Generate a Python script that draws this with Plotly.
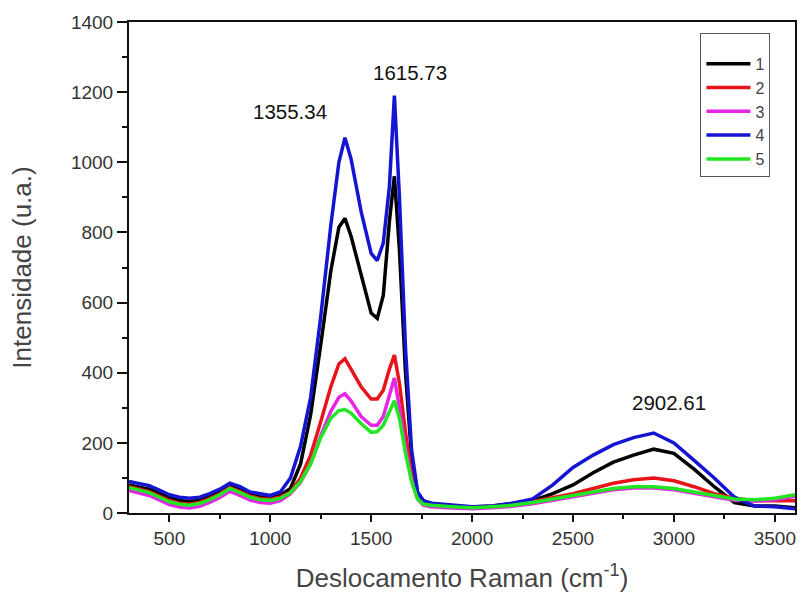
import plotly.graph_objects as go

# Raman shift grid (cm^-1)
shift = [300, 350, 400, 450, 500, 550, 600, 650, 700, 750, 800, 850, 900, 950, 1000, 1050,
         1100, 1150, 1200, 1250, 1300, 1340, 1370, 1400, 1450, 1500, 1530, 1560, 1590, 1615,
         1640, 1670, 1700, 1730, 1760, 1800, 1900, 2000, 2100, 2200, 2300, 2400, 2500, 2600,
         2700, 2800, 2900, 3000, 3100, 3200, 3300, 3400, 3500, 3600]

s1 = [80, 75, 68, 56, 44, 36, 33, 37, 47, 60, 78, 66, 52, 46, 42, 50,
      70, 140, 280, 480, 690, 815, 840, 790, 680, 570, 555, 620, 830, 960,
      750, 400, 160, 55, 30, 25, 20, 17, 20, 27, 35, 55, 80, 115,
      145, 165, 182, 170, 125, 75, 30, 20, 20, 15]

s2 = [75, 68, 61, 48, 36, 28, 25, 30, 41, 55, 73, 61, 48, 41, 39, 46,
      60, 100, 165, 260, 360, 425, 440, 410, 360, 325, 325, 350, 410, 450,
      370, 230, 110, 45, 28, 24, 19, 16, 19, 24, 33, 45, 55, 70,
      85, 95, 100, 92, 75, 55, 42, 35, 35, 35]

s3 = [64, 57, 50, 37, 24, 17, 14, 19, 30, 44, 62, 50, 37, 30, 28, 35,
      55, 88, 140, 220, 290, 330, 340, 320, 275, 250, 250, 275, 340, 385,
      300, 185, 95, 40, 22, 18, 14, 12, 15, 19, 26, 36, 46, 56,
      66, 71, 71, 66, 56, 44, 36, 34, 38, 48]

s4 = [90, 85, 78, 65, 52, 45, 42, 45, 55, 68, 85, 75, 60, 55, 50, 60,
      100, 190, 330, 560, 820, 1000, 1070, 1010, 860, 740, 720, 770, 930, 1190,
      900, 470, 180, 60, 35, 28, 22, 18, 20, 28, 40, 80, 130, 165,
      195, 215, 228, 200, 150, 100, 45, 20, 18, 12]

s5 = [72, 65, 58, 45, 32, 25, 22, 27, 38, 52, 70, 58, 45, 38, 36, 42,
      58, 90, 140, 215, 270, 292, 295, 285, 255, 230, 232, 250, 290, 320,
      270, 170, 90, 40, 25, 22, 18, 15, 18, 22, 30, 40, 50, 60,
      70, 75, 75, 70, 60, 48, 40, 38, 42, 52]

names = ["1", "2", "3", "4", "5"]
colors = ["#000000", "#e8141c", "#e626e6", "#1414d2", "#22e622"]
series = [s1, s2, s3, s4, s5]

peak_labels = ["1355.34", "1615.73", "2902.61"]
peak_x = [1100, 1694, 2975]
peak_y = [1145, 1257, 316]

FONT = "Liberation Sans, Arial"

fig = go.Figure()
for name, col, ys in zip(names, colors, series):
    fig.add_trace(go.Scatter(x=shift, y=ys, mode="lines", name=name,
                             line=dict(color=col, width=3.5)))

for t, xx, yy in zip(peak_labels, peak_x, peak_y):
    fig.add_annotation(x=xx, y=yy, text=t, showarrow=False,
                       font=dict(size=20.5, color="#111", family=FONT))

axis_common = dict(showline=True, linecolor="#111", linewidth=2, mirror=True,
                   ticks="outside", tickcolor="#111", tickwidth=2,
                   showgrid=False, zeroline=False,
                   tickfont=dict(size=19, color="#333", family=FONT))

fig.update_xaxes(range=[300, 3600], dtick=500, tick0=0, ticklen=7,
                 minor=dict(dtick=250, tick0=0, ticks="outside", ticklen=4, tickcolor="#111", tickwidth=1.5),
                 title=dict(text="Deslocamento Raman (cm<sup>-1</sup>)", standoff=21,
                            font=dict(size=26, color="#444", family=FONT)),
                 **axis_common)
fig.update_yaxes(range=[0, 1400], dtick=200, tick0=0, ticklen=10,
                 minor=dict(dtick=100, tick0=0, ticks="outside", ticklen=5, tickcolor="#111", tickwidth=1.5),
                 title=dict(text="Intensidade (u.a.)", standoff=32,
                            font=dict(size=26, color="#444", family=FONT)),
                 **axis_common)

fig.update_layout(
    width=802, height=596,
    margin=dict(l=129, r=5, t=22, b=83),
    paper_bgcolor="white", plot_bgcolor="white",
    showlegend=True,
    legend=dict(x=0.858, y=0.978, xanchor="left", yanchor="top",
                bordercolor="#555", borderwidth=1, bgcolor="white",
                font=dict(size=16, color="#444", family=FONT),
                title=dict(text=" ", font=dict(size=10)),
                itemwidth=44, tracegroupgap=0),
)

fig.write_html("out.html")
